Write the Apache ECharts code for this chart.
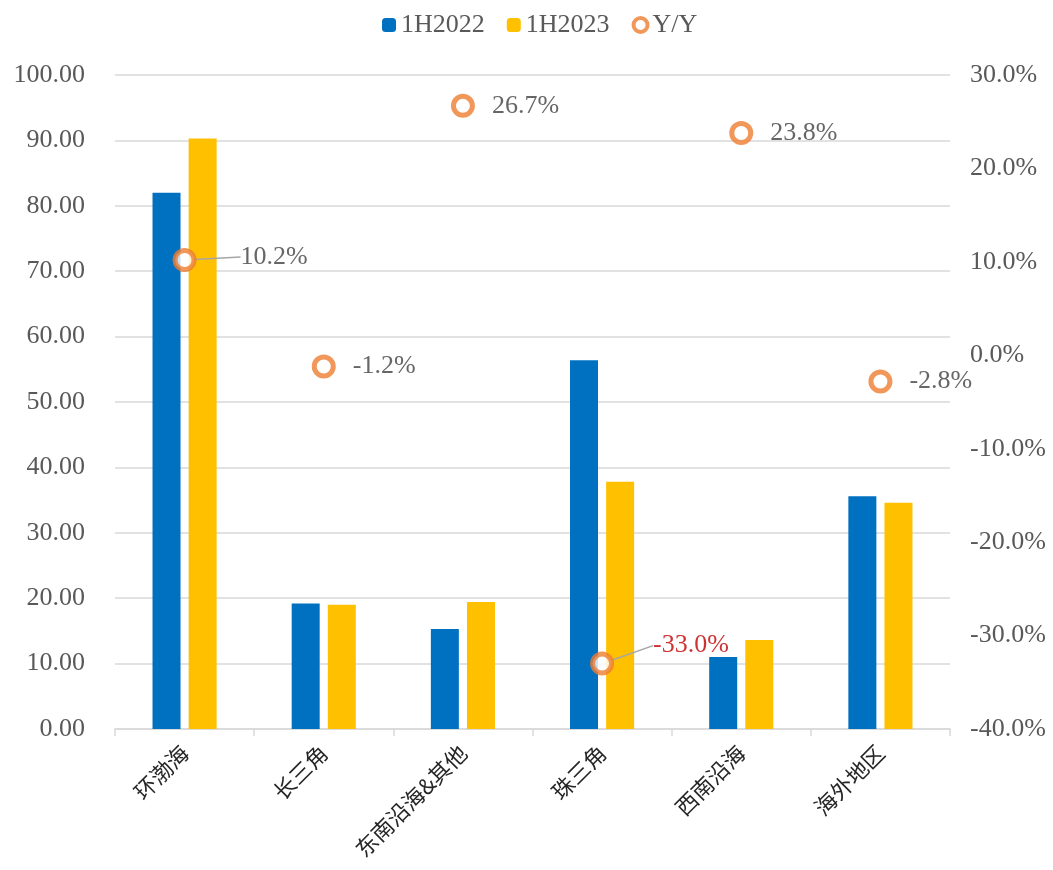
<!DOCTYPE html>
<html>
<head>
<meta charset="utf-8">
<script src="https://cdn.jsdelivr.net/npm/echarts@6/dist/echarts.min.js"></script>
<style>
  html, body { margin: 0; padding: 0; background: #fff; }
  #chartBox { width: 1053px; height: 870px; }
</style>
</head>
<body>
<div id="chartBox"></div>
<script>
var regions = ['环渤海', '长三角', '东南沿海&其他', '珠三角', '西南沿海', '海外地区'];
var h2022 = [82.0, 19.2, 15.3, 56.4, 11.0, 35.6];
var h2023 = [90.3, 19.0, 19.4, 37.8, 13.6, 34.6];
var yoy = [10.2, -1.2, 26.7, -33.0, 23.8, -2.8];

window.addEventListener('load', function() {
	var myChart = echarts.init(document.getElementById('chartBox'));
	var serif = '"Liberation Serif", "Times New Roman", serif';

	// Y/Y 点：两个带引线
	var yoyData = yoy.map(function(v, i) {
		var item = { value: v };
		if (i === 3) {
			item.label = { color: '#C00000' };
		}
		if (i === 0 || i === 3) {
			item.labelLine = { show: true, lineStyle: { color: '#a6a6a6', width: 1.5 } };
		}
		return item;
	});

	var option = {
		animation: false,
		legend: {
			top: 7,
			left: 377,
			itemWidth: 14,
			itemHeight: 14,
			itemGap: 22,
			textStyle: { fontFamily: serif, fontSize: 26, color: '#595959' },
			data: ['1H2022', '1H2023', {
				name: 'Y/Y',
				itemStyle: { color: '#fff', borderColor: '#ED7D31', borderWidth: 4 }
			}]
		},
		grid: { left: 115, right: 103, top: 75, bottom: 141 },
		xAxis: {
			type: 'category',
			data: regions,
			axisLine: { lineStyle: { color: '#d9d9d9', width: 1.5 } },
			axisTick: { show: true, length: 7, lineStyle: { color: '#d9d9d9', width: 1.5 } },
			axisLabel: {
				rotate: 45,
				margin: 20,
				fontSize: 22,
				color: '#262626',
				fontFamily: '"Noto Sans CJK SC", serif'
			}
		},
		yAxis: [{
			type: 'value',
			min: 0,
			max: 100,
			interval: 10,
			axisLine: { show: false },
			axisTick: { show: false },
			splitLine: { lineStyle: { color: '#d9d9d9', width: 1.5 } },
			axisLabel: {
				margin: 30,
				fontSize: 26,
				color: '#595959',
				fontFamily: serif,
				formatter: function(v) { return v.toFixed(2); }
			}
		}, {
			type: 'value',
			min: -40,
			max: 30,
			interval: 10,
			axisLine: { show: false },
			axisTick: { show: false },
			splitLine: { show: false },
			axisLabel: {
				margin: 20,
				fontSize: 26,
				color: '#595959',
				fontFamily: serif,
				formatter: function(v) { return v.toFixed(1) + '%'; }
			}
		}],
		series: [{
			name: '1H2022',
			type: 'bar',
			barWidth: 28,
			barGap: '29%',
			itemStyle: { color: '#0070C0' },
			data: h2022
		}, {
			name: '1H2023',
			type: 'bar',
			barWidth: 28,
			itemStyle: { color: '#FFC000' },
			data: h2023
		}, {
			name: 'Y/Y',
			type: 'scatter',
			yAxisIndex: 1,
			symbol: 'circle',
			symbolSize: 19,
			z: 5,
			itemStyle: { color: '#fff', borderColor: '#ED7D31', borderWidth: 5 },
			label: {
				show: true,
				position: 'right',
				distance: 17,
				fontSize: 26,
				fontFamily: serif,
				color: '#404040',
				formatter: function(p) { return p.value.toFixed(1) + '%'; }
			},
			labelLayout: function(params) {
				if (params.dataIndex === 0) {
					return { dx: 27, dy: -3 };
				}
				if (params.dataIndex === 3) {
					return { dx: 22, dy: -18 };
				}
				return {};
			},
			data: yoyData
		}]
	};
	myChart.setOption(option);
});
</script>
</body>
</html>
